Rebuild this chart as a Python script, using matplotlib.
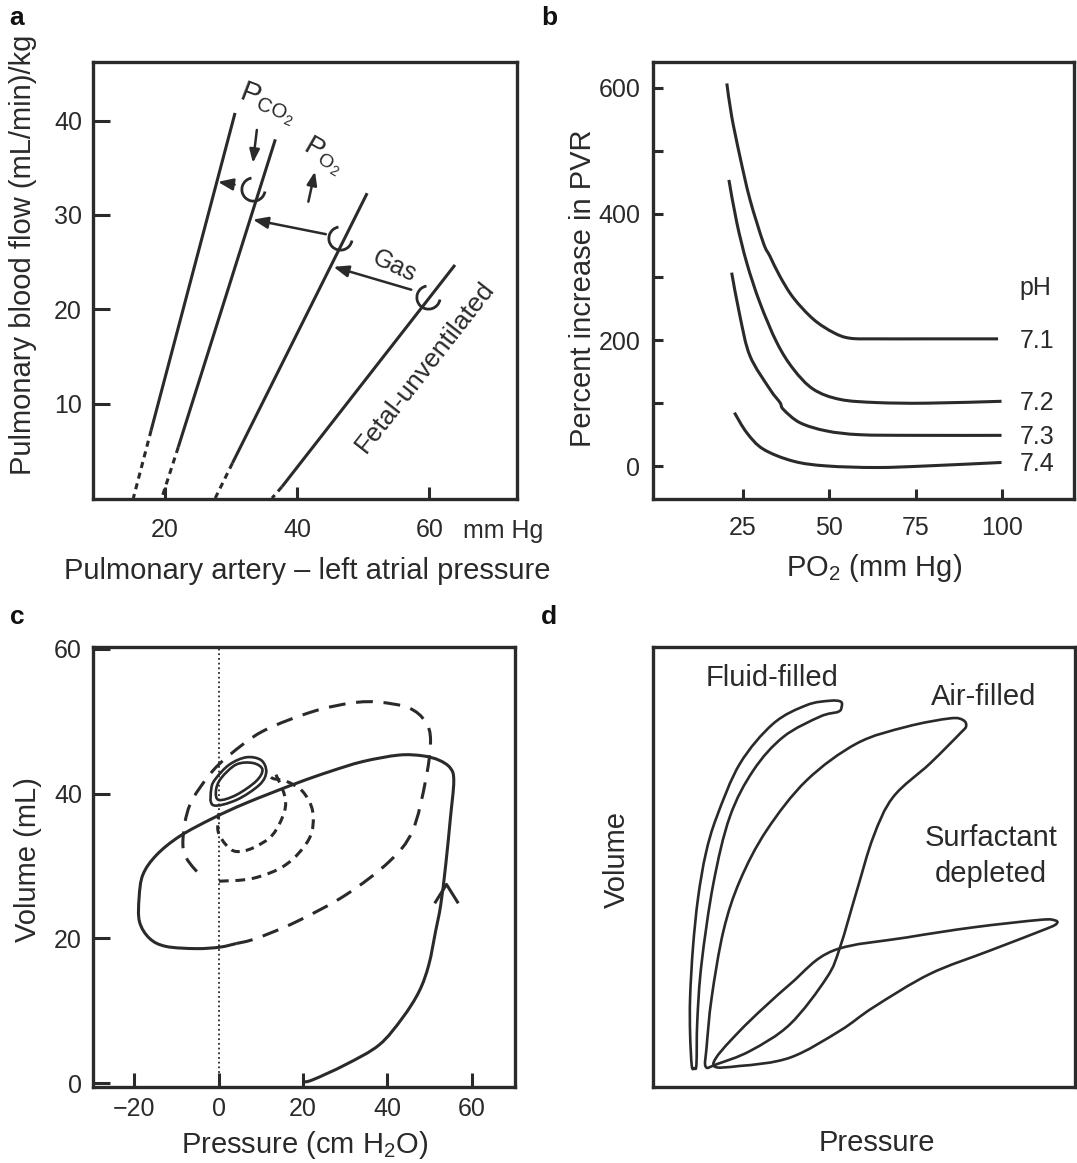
import matplotlib.pyplot as plt
from matplotlib.path import Path
from matplotlib.patches import PathPatch

plt.rcParams['font.family'] = ['Liberation Sans', 'DejaVu Sans']
plt.rcParams['mathtext.fontset'] = 'custom'
plt.rcParams['mathtext.rm'] = 'Liberation Sans'
plt.rcParams['mathtext.it'] = 'Liberation Sans:italic'
plt.rcParams['mathtext.bf'] = 'Liberation Sans:bold'

INK = '#2a2a2a'

# ---- panel a: pressure / flow lines (mm Hg, (mL/min)/kg)
# each line: upper end, end of the solid part, zero-flow intercept
a_top_p = [30.6, 36.7, 50.6, 63.9]
a_top_q = [40.8, 38.0, 32.3, 24.7]
a_mid_p = [17.9, 22.0, 30.2, 37.7]
a_mid_q = [7.2, 5.4, 3.7, 1.2]
a_zero_p = [15.2, 19.5, 27.6, 36.2]
a_zero_q = [0.0, 0.0, 0.0, 0.0]
# shifts from one line to the next
a_shift_from_p = [59.1, 46.2, 32.4]
a_shift_from_q = [21.7, 27.7, 33.0]
a_shift_to_p = [45.5, 33.3, 28.0]
a_shift_to_q = [24.5, 29.5, 33.5]
a_cup_p = [59.8, 46.5, 33.3]
a_cup_q = [21.3, 27.6, 32.7]
# PCO2 down / PO2 up arrows
a_small_from_p = [33.9, 41.7]
a_small_from_q = [39.0, 31.4]
a_small_to_p = [33.3, 42.7]
a_small_to_q = [35.5, 34.6]

# ---- panel b: PVR increase vs PO2 for several pH
b_ph = ['7.1', '7.2', '7.3', '7.4']
b_po2 = [
    [20.3, 21.7, 24.1, 27.0, 30.9, 32.8, 35.7, 39.6, 45.4, 51.2, 56.0, 64.0, 78.0, 98.9],
    [20.9, 23.2, 26.1, 29.9, 34.8, 39.6, 45.4, 53.1, 63.7, 78.2, 99.9],
    [21.7, 24.1, 27.0, 32.8, 35.7, 36.7, 41.5, 49.2, 58.9, 75.0, 99.9],
    [22.5, 26.1, 30.9, 39.6, 49.2, 63.7, 78.2, 99.9],
]
b_pvr = [
    [607, 555, 491, 423, 354, 333, 301, 267, 233, 212, 203, 202, 202, 202],
    [454, 386, 322, 259, 196, 154, 122, 106, 101, 100, 103],
    [307, 238, 175, 122, 101, 90, 69, 56, 50, 49, 49],
    [85, 53, 27, 8, 0.5, -2, 0.5, 6],
]

# ---- panel c: volume vs pressure loops (cm H2O, mL)
c_solid_p = [20.0, 22.3, 30.1, 38.0, 43.5, 47.5, 49.8, 51.4, 52.6, 53.8, 54.9,
             55.7, 54.9, 52.2, 48.3, 42.7, 34.1, 26.2, 18.4, 6.6, -1.3, -9.2,
             -14.7, -17.9, -18.8, -18.7, -16.3, -12.4, -5.3, 0.3, 4.2]
c_solid_v = [0.2, 0.5, 2.6, 5.3, 9.0, 12.7, 16.4, 21.0, 24.6, 30.2, 36.6,
             41.7, 43.5, 44.6, 45.2, 45.3, 44.4, 43.0, 41.4, 38.7, 36.6, 34.1,
             31.5, 28.8, 25.6, 22.3, 20.0, 18.9, 18.6, 18.8, 19.3]
c_long_p = [4.2, 8.9, 18.4, 30.1, 40.4, 45.9, 49.0, 50.2, 49.0, 45.1, 38.0,
            31.7, 22.3, 10.5, 2.6, -2.1, -6.8, -8.4, -7.6, -3.7]
c_long_v = [19.3, 20.0, 22.3, 26.0, 30.6, 34.8, 41.7, 47.2, 49.9, 51.8, 52.6,
            52.5, 51.3, 48.6, 45.3, 42.6, 38.4, 33.8, 31.1, 28.3]
c_mid_p = [0.1, 8.2, 16.0, 21.5, 22.3, 19.9, 16.0, 12.8, 11.3]
c_mid_v = [27.9, 28.3, 30.2, 33.8, 37.5, 40.3, 41.7, 42.1, 43.0]
c_short_p = [13.6, 15.6, 15.6, 12.8, 8.2, 4.2, 1.8, -0.1, 0.1]
c_short_v = [42.6, 39.8, 37.5, 34.3, 32.5, 32.0, 32.9, 34.8, 37.3]
c_ell_out_p = [-1.7, -1.3, 4.2, 9.7, 11.3, 10.1, 6.6, 2.6, -0.6]
c_ell_out_v = [40.7, 38.4, 39.1, 41.2, 43.0, 44.6, 45.0, 44.0, 42.1]
c_ell_in_p = [-0.6, 0.1, 4.2, 8.9, 10.4, 8.2, 4.2, 0.6]
c_ell_in_v = [40.4, 39.1, 39.8, 41.7, 43.3, 44.2, 44.0, 42.1]
c_arrow_p = [53.8]
c_arrow_v = [26.5]

# ---- panel d: schematic pressure-volume loops (arbitrary units)
d_fluid_p = [9.2, 8.8, 8.8, 9.5, 10.7, 12.5, 15.1, 20.6, 28.5, 36.4, 41.9,
             44.5, 44.7, 43.9, 39.6, 30.9, 23.8, 18.2, 14.3, 11.5, 10.5, 10.3,
             9.8]
d_fluid_v = [4.8, 12.0, 20.4, 32.0, 43.1, 53.0, 61.4, 73.5, 82.6, 86.8, 87.8,
             87.6, 86.4, 85.3, 84.2, 79.6, 72.0, 61.4, 46.2, 28.0, 15.0, 5.2,
             4.3]
d_air_p = [12.5, 12.7, 13.9, 16.7, 20.6, 26.9, 36.4, 48.3, 60.1, 70.4, 73.5,
           74.2, 72.7, 65.6, 56.9, 52.2, 48.3, 44.3, 41.2, 32.5, 23.0, 15.1]
d_air_v = [4.6, 9.0, 20.3, 35.5, 46.9, 58.3, 69.7, 78.1, 81.9, 83.8, 83.4,
           82.0, 80.3, 73.5, 65.9, 56.8, 44.6, 31.7, 24.9, 14.3, 8.2, 5.2]
d_surf_p = [14.3, 20.6, 32.5, 42.7, 60.1, 75.9, 91.7, 95.2, 95.7, 93.3, 79.8,
            65.6, 52.2, 44.3, 32.5, 20.6]
d_surf_v = [5.2, 12.8, 23.4, 31.0, 34.0, 36.3, 38.0, 37.9, 37.2, 36.0, 31.0,
            25.7, 18.1, 12.8, 6.7, 4.8]


def smooth_path(xs, ys, closed=False):
    # Catmull-Rom curve through the given points, as cubic Bezier segments
    pts = list(zip(xs, ys))
    n = len(pts)
    if closed:
        segs = [(pts[i - 1], pts[i], pts[(i + 1) % n], pts[(i + 2) % n]) for i in range(n)]
    else:
        ext = [pts[0]] + pts + [pts[-1]]
        segs = [tuple(ext[i:i + 4]) for i in range(n - 1)]
    verts = [segs[0][1]]
    codes = [Path.MOVETO]
    for p0, p1, p2, p3 in segs:
        c1 = (p1[0] + (p2[0] - p0[0]) / 6, p1[1] + (p2[1] - p0[1]) / 6)
        c2 = (p2[0] - (p3[0] - p1[0]) / 6, p2[1] - (p3[1] - p1[1]) / 6)
        verts += [c1, c2, p2]
        codes += [Path.CURVE4] * 3
    return Path(verts, codes)


def curve(ax, xs, ys, closed=False, lw=2.2, ls='-'):
    ax.add_patch(PathPatch(smooth_path(xs, ys, closed), fill=False,
                           edgecolor=INK, lw=lw, ls=ls, capstyle='butt',
                           joinstyle='round'))


fig = plt.figure(figsize=(10.77, 11.63), dpi=100)


def frame(ax):
    for s in ax.spines.values():
        s.set_linewidth(2.4)
        s.set_color(INK)
    ax.tick_params(direction='in', width=2.2, color=INK, labelcolor=INK,
                   labelsize=18)


# ---------------- a
ax = fig.add_axes([0.0864, 0.5709, 0.3937, 0.3758])
frame(ax)
for i in range(4):
    ax.plot([a_top_p[i], a_mid_p[i]], [a_top_q[i], a_mid_q[i]],
            color=INK, lw=2.2, solid_capstyle='butt')
    ax.plot([a_mid_p[i], a_zero_p[i]], [a_mid_q[i], a_zero_q[i]],
            color=INK, lw=2.2, dashes=(2.0, 1.6))
for i in range(3):
    ax.annotate('', xy=(a_shift_to_p[i], a_shift_to_q[i]),
                xytext=(a_shift_from_p[i], a_shift_from_q[i]),
                arrowprops=dict(arrowstyle='-|>,head_length=0.9,head_width=0.35',
                                lw=1.8, color=INK, shrinkA=9, shrinkB=0))
cup = Path.arc(100, 350)
ax.plot(a_cup_p, a_cup_q, ls='none', marker=cup, ms=17, mew=2.0,
        mec=INK, mfc='none')
for i in range(2):
    ax.annotate('', xy=(a_small_to_p[i], a_small_to_q[i]),
                xytext=(a_small_from_p[i], a_small_from_q[i]),
                arrowprops=dict(arrowstyle='-|>,head_length=0.8,head_width=0.3',
                                lw=1.8, color=INK, shrinkA=0, shrinkB=0))
ax.text(35.6, 41.8, r'$\mathregular{P_{CO_2}}$', rotation=-21, fontsize=21,
        ha='center', va='center', color=INK)
ax.text(43.9, 36.3, r'$\mathregular{P_{O_2}}$', rotation=-30, fontsize=20,
        ha='center', va='center', color=INK)
ax.text(54.8, 24.6, 'Gas', rotation=-25, fontsize=18,
        ha='center', va='center', color=INK)
ax.text(59.3, 13.9, 'Fetal-unventilated', rotation=52, fontsize=19,
        ha='center', va='center', color=INK)
ax.set_xlim(9.1, 73.3)
ax.set_ylim(-0.1, 46.2)
ax.set_xticks([20, 40, 60])
ax.set_yticks([10, 20, 30, 40])
ax.tick_params(axis='x', length=9, pad=14)
ax.tick_params(axis='y', length=12, pad=8)
fig.text(503 / 1077, 1 - 531 / 1163, 'mm Hg', fontsize=18, ha='center',
         va='center', color=INK)
fig.text(23 / 1077, 1 - 255 / 1163, 'Pulmonary blood flow (mL/min)/kg',
         rotation=90, fontsize=21, ha='center', va='center', color=INK)
fig.text(307 / 1077, 1 - 571 / 1163, 'Pulmonary artery \u2013 left atrial pressure',
         fontsize=21, ha='center', va='center', color=INK)

# ---------------- b
ax = fig.add_axes([0.6063, 0.5709, 0.3909, 0.3758])
frame(ax)
for i in range(4):
    curve(ax, b_po2[i], b_pvr[i])
    ax.text(105.2, b_pvr[i][-1] - 3, b_ph[i], fontsize=18, ha='left',
            va='center', color=INK)
ax.text(105.2, 282, 'pH', fontsize=18, ha='left', va='center', color=INK)
ax.set_xlim(-1.1, 120.9)
ax.set_ylim(-52, 641)
ax.set_xticks([25, 50, 75, 100])
ax.set_yticks([0, 200, 400, 600])
ax.set_yticks([100, 300, 500], minor=True)
ax.tick_params(which='both', direction='in', length=7, width=2.2, color=INK)
ax.tick_params(axis='x', pad=12)
ax.tick_params(axis='y', pad=9)
fig.text(583 / 1077, 1 - 288 / 1163, 'Percent increase in PVR',
         rotation=90, fontsize=21, ha='center', va='center', color=INK)
fig.text(874 / 1077, 1 - 568 / 1163, r'PO$_2$ (mm Hg)',
         fontsize=21, ha='center', va='center', color=INK)

# ---------------- c
ax = fig.add_axes([0.0864, 0.0653, 0.3918, 0.3783])
frame(ax)
ax.axvline(0, color=INK, lw=1.3, ls=(0, (1, 1.6)))
curve(ax, c_solid_p, c_solid_v)
curve(ax, c_long_p, c_long_v, ls=(0, (5.5, 3.5)))
curve(ax, c_mid_p, c_mid_v, ls=(0, (3.2, 2.2)))
curve(ax, c_short_p, c_short_v, ls=(0, (2.8, 2.0)))
curve(ax, c_ell_out_p, c_ell_out_v, closed=True, lw=1.9)
curve(ax, c_ell_in_p, c_ell_in_v, closed=True, lw=1.9)
chevron = Path([(-1, -1), (0, 0.6), (1, -1)],
               [Path.MOVETO, Path.LINETO, Path.LINETO])
ax.plot(c_arrow_p, c_arrow_v, ls='none', marker=chevron, ms=17, mew=2.2,
        mec=INK, mfc='none')
ax.set_xlim(-29.7, 70.2)
ax.set_ylim(-0.5, 60.2)
ax.set_xticks([-20, 0, 20, 40, 60])
ax.set_yticks([0, 20, 40, 60])
ax.tick_params(axis='x', length=10, pad=7)
ax.tick_params(axis='y', length=12, pad=8)
fig.text(28 / 1077, 1 - 860 / 1163, 'Volume (mL)',
         rotation=90, fontsize=21, ha='center', va='center', color=INK)
fig.text(305 / 1077, 1 - 1145 / 1163, r'Pressure (cm H$_2$O)',
         fontsize=21, ha='center', va='center', color=INK)

# ---------------- d
ax = fig.add_axes([0.6063, 0.0653, 0.3918, 0.3783])
frame(ax)
curve(ax, d_fluid_p, d_fluid_v, closed=True, lw=1.9)
curve(ax, d_air_p, d_air_v, closed=True, lw=1.9)
curve(ax, d_surf_p, d_surf_v, closed=True, lw=1.9)
ax.text(28.2, 92.9, 'Fluid-filled', fontsize=21, ha='center', va='center', color=INK)
ax.text(78.4, 88.6, 'Air-filled', fontsize=21, ha='center', va='center', color=INK)
ax.text(80.1, 56.5, 'Surfactant', fontsize=21, ha='center', va='center', color=INK)
ax.text(80.1, 48.5, 'depleted', fontsize=21, ha='center', va='center', color=INK)
ax.set_xlim(0, 100)
ax.set_ylim(0, 100)
ax.set_xticks([])
ax.set_yticks([])
fig.text(617 / 1077, 1 - 860 / 1163, 'Volume',
         rotation=90, fontsize=21, ha='center', va='center', color=INK)
fig.text(877 / 1077, 1 - 1143 / 1163, 'Pressure',
         fontsize=21, ha='center', va='center', color=INK)

# panel letters
for letter, x, y in [('a', 17, 18), ('b', 549, 18), ('c', 17, 617), ('d', 549, 617)]:
    fig.text(x / 1077, 1 - y / 1163, letter, fontsize=19, fontweight='bold',
             ha='center', va='center', color='#111111')

fig.savefig('out.png', dpi=100)
